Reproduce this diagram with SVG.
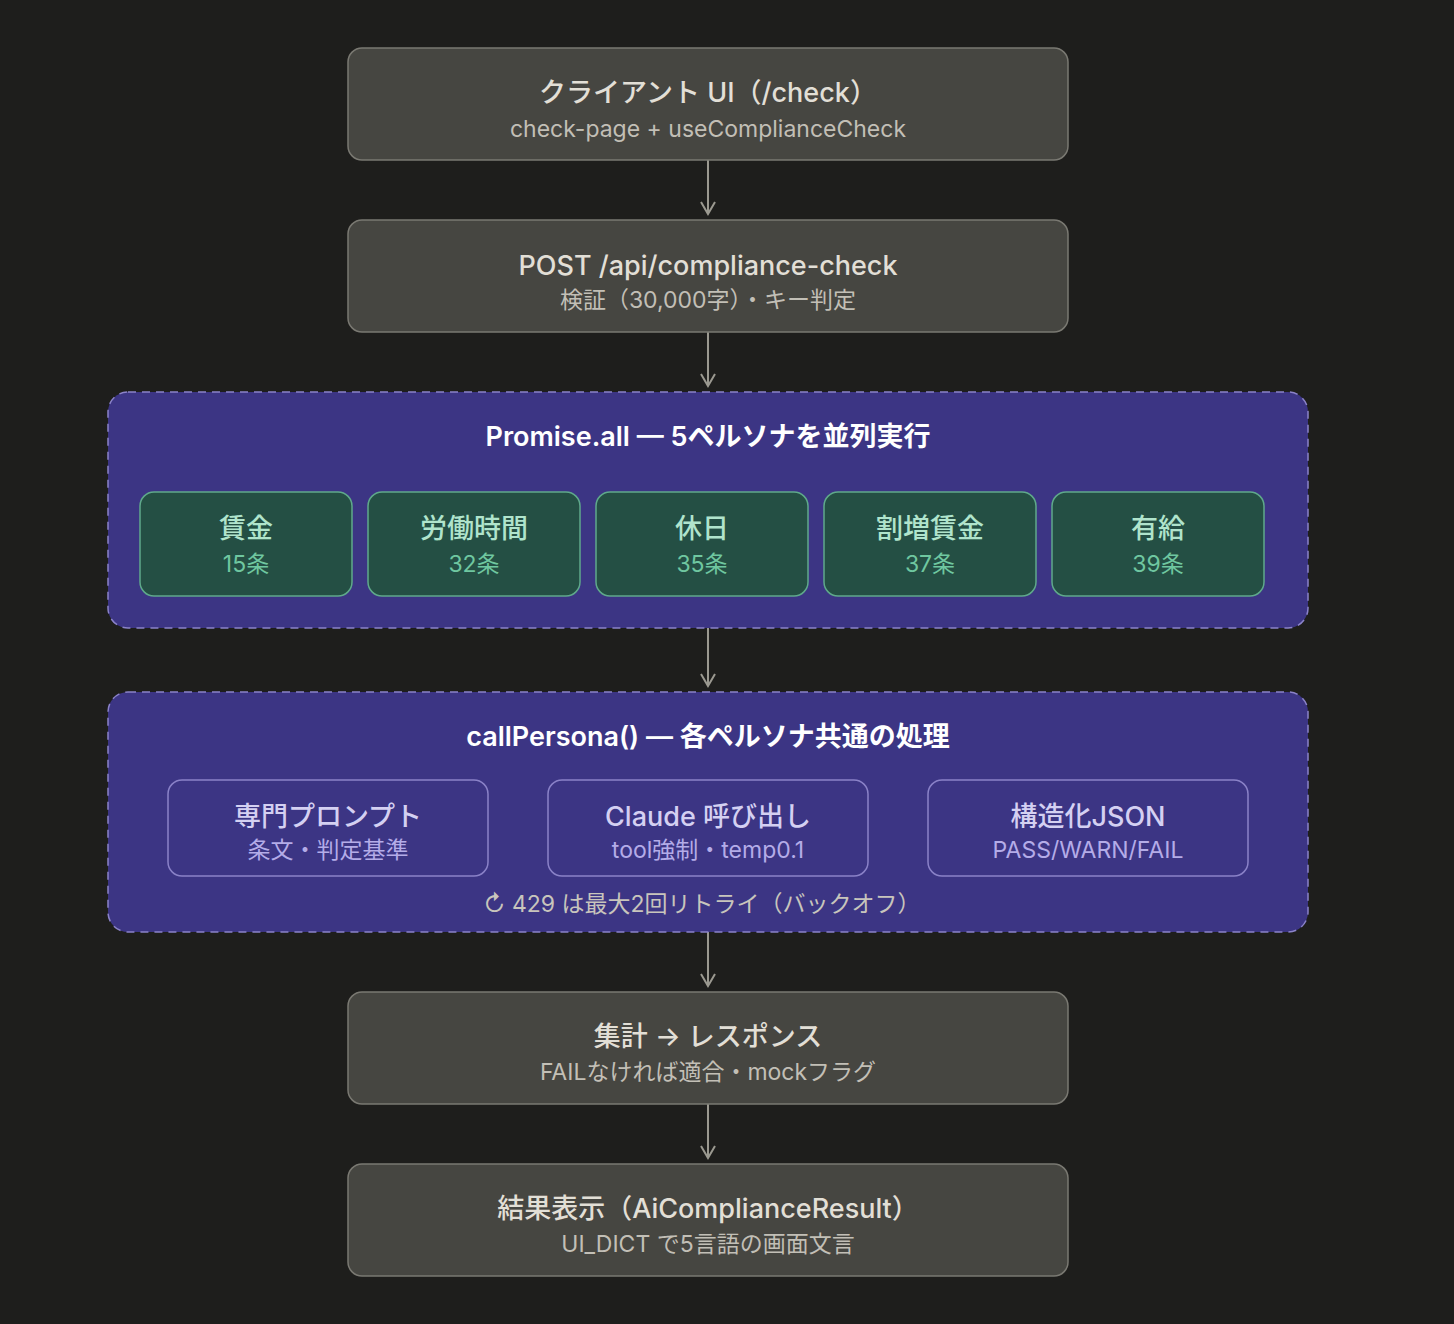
<svg xmlns="http://www.w3.org/2000/svg" width="1454" height="1324" viewBox="0 0 1454 1324">
<style>
text{font-family:Inter,"Noto Sans CJK JP","Noto Sans",sans-serif;text-anchor:middle}
.gbox{fill:#464641;stroke:#7a7972;stroke-width:1.5}
.gt{font-size:27px;font-weight:500;fill:#e2dfd6}
.gs{font-size:23px;fill:#c2bfb6}
.cont{fill:#3c3584;stroke:#8b83c9;stroke-width:1.5;stroke-dasharray:8 6}
.ct{font-size:27px;font-weight:600;fill:#ffffff}
.grn{fill:#244f44;stroke:#5fa98b;stroke-width:1.5}
.grt{font-size:27px;font-weight:500;fill:#b0e4cc}
.grs{font-size:23px;fill:#6fc7a0}
.pbox{fill:none;stroke:#8a82c8;stroke-width:1.5}
.pt{font-size:27px;font-weight:500;fill:#d4d0f2}
.ps{font-size:23px;fill:#b4ace8}
.note{font-size:23px;fill:#c8c5bc}
.conn{stroke:#9b9990;stroke-width:2;fill:none;marker-end:url(#ah)}
</style>
<defs>
<marker id="ah" viewBox="0 0 16 16" refX="14" refY="8" markerWidth="16" markerHeight="16" markerUnits="userSpaceOnUse" orient="auto">
<path d="M2,1 L14,8 L2,15" fill="none" stroke="#9b9990" stroke-width="2"/>
</marker>
</defs>
<rect width="1454" height="1324" fill="#1e1e1c"/>
<g id="connectors">
<line class="conn" x1="708" y1="160" x2="708" y2="214"/>
<line class="conn" x1="708" y1="332" x2="708" y2="386"/>
<line class="conn" x1="708" y1="628" x2="708" y2="686"/>
<line class="conn" x1="708" y1="932" x2="708" y2="986"/>
<line class="conn" x1="708" y1="1104" x2="708" y2="1158"/>
<line class="conn" x1="488" y1="828" x2="545" y2="828"/>
<line class="conn" x1="868" y1="828" x2="925" y2="828"/>
</g>
<g id="client-ui">
<rect class="gbox" x="348" y="48" width="720" height="112" rx="14"/>
<text class="gt" x="708" y="102">クライアント UI（/check）</text>
<text class="gs" x="708" y="137">check-page + useComplianceCheck</text>
</g>
<g id="api">
<rect class="gbox" x="348" y="220" width="720" height="112" rx="14"/>
<text class="gt" x="708" y="275">POST /api/compliance-check</text>
<text class="gs" x="708" y="308">検証（30,000字）・キー判定</text>
</g>
<g id="promise-all">
<rect class="cont" x="108" y="392" width="1200" height="236" rx="20"/>
<text class="ct" x="708" y="446">Promise.all — 5ペルソナを並列実行</text>
</g>
<g id="p-wage">
<rect class="grn" x="140" y="492" width="212" height="104" rx="14"/>
<text class="grt" x="246" y="538">賃金</text>
<text class="grs" x="246" y="572">15条</text>
</g>
<g id="p-hours">
<rect class="grn" x="368" y="492" width="212" height="104" rx="14"/>
<text class="grt" x="474" y="538">労働時間</text>
<text class="grs" x="474" y="572">32条</text>
</g>
<g id="p-holiday">
<rect class="grn" x="596" y="492" width="212" height="104" rx="14"/>
<text class="grt" x="702" y="538">休日</text>
<text class="grs" x="702" y="572">35条</text>
</g>
<g id="p-overtime">
<rect class="grn" x="824" y="492" width="212" height="104" rx="14"/>
<text class="grt" x="930" y="538">割増賃金</text>
<text class="grs" x="930" y="572">37条</text>
</g>
<g id="p-leave">
<rect class="grn" x="1052" y="492" width="212" height="104" rx="14"/>
<text class="grt" x="1158" y="538">有給</text>
<text class="grs" x="1158" y="572">39条</text>
</g>
<g id="call-persona">
<rect class="cont" x="108" y="692" width="1200" height="240" rx="20"/>
<text class="ct" x="708" y="746">callPersona() — 各ペルソナ共通の処理</text>
<text class="note" x="702" y="912">↻ 429 は最大2回リトライ（バックオフ）</text>
</g>
<g id="prompt">
<rect class="pbox" x="168" y="780" width="320" height="96" rx="14"/>
<text class="pt" x="328" y="826">専門プロンプト</text>
<text class="ps" x="328" y="858">条文・判定基準</text>
</g>
<g id="claude">
<rect class="pbox" x="548" y="780" width="320" height="96" rx="14"/>
<text class="pt" x="708" y="826">Claude 呼び出し</text>
<text class="ps" x="708" y="858">tool強制・temp0.1</text>
</g>
<g id="json">
<rect class="pbox" x="928" y="780" width="320" height="96" rx="14"/>
<text class="pt" x="1088" y="826">構造化JSON</text>
<text class="ps" x="1088" y="858">PASS/WARN/FAIL</text>
</g>
<g id="aggregate">
<rect class="gbox" x="348" y="992" width="720" height="112" rx="14"/>
<text class="gt" x="708" y="1046">集計 → レスポンス</text>
<text class="gs" x="708" y="1080">FAILなければ適合・mockフラグ</text>
</g>
<g id="result">
<rect class="gbox" x="348" y="1164" width="720" height="112" rx="14"/>
<text class="gt" x="708" y="1218">結果表示（AiComplianceResult）</text>
<text class="gs" x="708" y="1252">UI_DICT で5言語の画面文言</text>
</g>
</svg>
